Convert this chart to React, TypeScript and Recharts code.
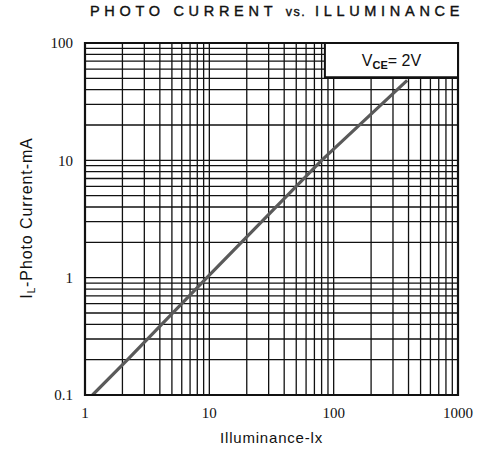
import { LineChart, Line, XAxis, YAxis, ReferenceLine, ReferenceArea } from 'recharts';

// (log-log)
const illum = [1.15, 2.2, 10, 80, 390];
const current = [0.1, 0.2, 1.05, 10, 48];
const xTicks = [1, 10, 100, 1000];
const yTicks = [0.1, 1, 10, 100];
const xGrid = [2, 3, 4, 5, 6, 7, 8, 9, 10, 20, 30, 40, 50, 60, 70, 80, 90, 100, 200, 300, 400, 500, 600, 700, 800, 900];
const yGrid = [0.2, 0.3, 0.4, 0.5, 0.6, 0.7, 0.8, 0.9, 1, 2, 3, 4, 5, 6, 7, 8, 9, 10, 20, 30, 40, 50, 60, 70, 80, 90];
const boxX = [85, 1000];
const boxY = [51, 100];

const data = illum.map((x, i) => ({ x, y: current[i] }));

const TICK = { fontFamily: '"Liberation Serif", serif', fontSize: 15, fill: '#111' };
const SANS = '"Liberation Sans", Arial, sans-serif';

function YLabel({ viewBox }: any) {
  const cx = 32;
  const cy = viewBox ? viewBox.y + viewBox.height / 2 - 1 : 218;
  return (
    <text x={cx} y={cy} transform={`rotate(-90 ${cx} ${cy})`} textAnchor="middle"
      fontFamily={SANS} fontSize={16} fill="#111" letterSpacing={0.9}>
      I<tspan fontSize={10} dy={3}>L</tspan><tspan dy={-3}>-Photo  Current-mA</tspan>
    </text>
  );
}

function BoxLabel({ viewBox }: any) {
  if (!viewBox) return null;
  const cx = viewBox.x + viewBox.width / 2;
  const cy = viewBox.y + viewBox.height / 2 + 6;
  return (
    <text x={cx} y={cy} textAnchor="middle" fontFamily={SANS} fontSize={16} fill="#111">
      V<tspan fontSize={11} dy={3} fontWeight={700}>CE</tspan><tspan dy={-3}>= 2V</tspan>
    </text>
  );
}

export default function App() {
  return (
    <div style={{ position: 'absolute', left: 0, top: 0, width: 477, height: 450, background: '#fff' }}>
      <div style={{
        position: 'absolute', left: 77, top: 3, width: 400, textAlign: 'center',
        fontFamily: SANS, fontSize: 14.5, fontWeight: 400,
        letterSpacing: 4.7, color: '#111', whiteSpace: 'nowrap', WebkitTextStroke: '0.4px #111',
      }}>
        PHOTO CURRENT <span style={{ fontSize: 12.5, letterSpacing: 1.5 }}>vs.</span> ILLUMINANCE
      </div>
      <LineChart width={477} height={450} data={data} margin={{ top: 43, right: 19, left: 0, bottom: 0 }}>
        <XAxis dataKey="x" type="number" scale="log" domain={[1, 1000]} ticks={xTicks}
          allowDataOverflow tick={TICK} tickLine={false} axisLine={false} height={55} tickMargin={6}
          label={{ value: 'Illuminance-lx', position: 'insideBottom', offset: 7,
            style: { fontFamily: SANS, fontSize: 15, fill: '#111', letterSpacing: 0.8 } }} />
        <YAxis type="number" scale="log" domain={[0.1, 100]} ticks={yTicks}
          allowDataOverflow tick={TICK} tickLine={false} axisLine={false} width={85} tickMargin={6}
          label={<YLabel />} />

        {xGrid.map((v) => (
          <ReferenceLine key={`vx${v}`} x={v} stroke="#111" strokeWidth={1.3} />
        ))}
        {yGrid.map((v) => (
          <ReferenceLine key={`hy${v}`} y={v} stroke="#111" strokeWidth={1.3} />
        ))}

        {/* frame */}
        <ReferenceArea x1={1} x2={1000} y1={0.1} y2={100} fill="none" stroke="#111" strokeWidth={2.2} zIndex={900} />

        <Line type="linear" dataKey="y" stroke="#5a5a5a" strokeWidth={3.2} dot={false} isAnimationActive={false} />

        <ReferenceArea x1={boxX[0]} x2={boxX[1]} y1={boxY[0]} y2={boxY[1]} fill="#fff" fillOpacity={1}
          stroke="#111" strokeWidth={2} label={<BoxLabel />} zIndex={1000} />
      </LineChart>
    </div>
  );
}
